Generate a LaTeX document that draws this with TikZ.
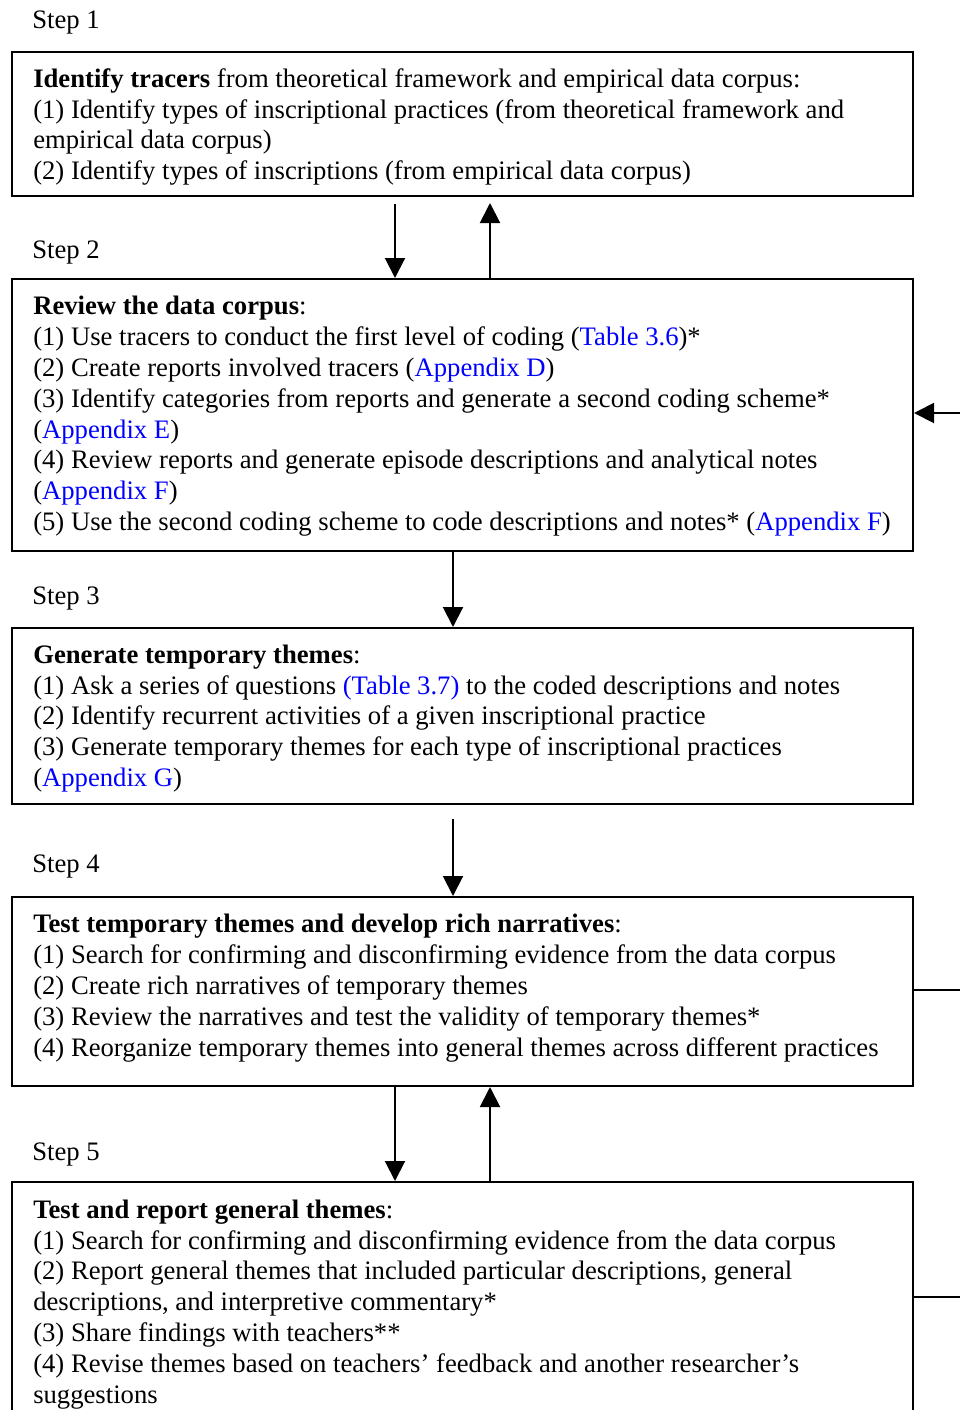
\documentclass[tikz,border=0pt]{standalone}
\usepackage{fontspec}
\setmainfont{Liberation Serif}
\usetikzlibrary{arrows.meta,fit}
\definecolor{refblue}{RGB}{0,0,255}
\newcommand{\lk}[1]{\textcolor{refblue}{#1}}
\begin{document}
\begin{tikzpicture}[x=0.75pt,y=-0.75pt,
  box/.style={draw,line width=1.5pt,inner sep=0pt,rectangle},
  txt/.style={anchor=north west,inner sep=0pt,align=left,
    font={\fontsize{20}{23.1}\selectfont}},
  steplabel/.style={anchor=base west,inner sep=0pt,
    font={\fontsize{20}{23.1}\selectfont}},
  arr/.style={line width=1.5pt,-{Triangle[length=15pt,width=15pt]}},
  link/.style={line width=1.5pt}]
\useasboundingbox (0,0) rectangle (960,1410);
\clip (0,0) rectangle (960,1410);

% step labels
\node[steplabel] (s1) at (32,28)   {Step 1};
\node[steplabel] (s2) at (32,258)  {Step 2};
\node[steplabel] (s3) at (32,604)  {Step 3};
\node[steplabel] (s4) at (32,872)  {Step 4};
\node[steplabel] (s5) at (32,1160) {Step 5};

% frames
\node[box,fit={(12,52) (913,196)}]    (b1) {};
\node[box,fit={(12,279) (913,551)}]   (b2) {};
\node[box,fit={(12,628) (913,804)}]   (b3) {};
\node[box,fit={(12,897) (913,1086)}]  (b4) {};
\node[box,fit={(12,1182) (913,1450)}] (b5) {};

% contents
\node[txt] (t1) at (33,65.5) {\strut\textbf{Identify tracers} from theoretical framework and empirical data corpus:\\
(1) Identify types of inscriptional practices (from theoretical framework and\\
empirical data corpus)\\
(2) Identify types of inscriptions (from empirical data corpus)};

\node[txt] (t2) at (33,293) {\strut\textbf{Review the data corpus}:\\
(1) Use tracers to conduct the first level of coding (\lk{Table 3.6})*\\
(2) Create reports involved tracers (\lk{Appendix D})\\
(3) Identify categories from reports and generate a second coding scheme*\\
(\lk{Appendix E})\\
(4) Review reports and generate episode descriptions and analytical notes\\
(\lk{Appendix F})\\
(5) Use the second coding scheme to code descriptions and notes* (\lk{Appendix F})};

\node[txt] (t3) at (33,641.5) {\strut\textbf{Generate temporary themes}:\\
(1) Ask a series of questions \lk{(Table 3.7)} to the coded descriptions and notes\\
(2) Identify recurrent activities of a given inscriptional practice\\
(3) Generate temporary themes for each type of inscriptional practices\\
(\lk{Appendix G})};

\node[txt] (t4) at (33,911) {\strut\textbf{Test temporary themes and develop rich narratives}:\\
(1) Search for confirming and disconfirming evidence from the data corpus\\
(2) Create rich narratives of temporary themes\\
(3) Review the narratives and test the validity of temporary themes*\\
(4) Reorganize temporary themes into general themes across different practices};

\node[txt] (t5) at (33,1196.5) {\strut\textbf{Test and report general themes}:\\
(1) Search for confirming and disconfirming evidence from the data corpus\\
(2) Report general themes that included particular descriptions, general\\
descriptions, and interpretive commentary*\\
(3) Share findings with teachers**\\
(4) Revise themes based on teachers’ feedback and another researcher’s\\
suggestions};

% vertical connectors between steps
\draw[arr] ([shift={(384,7)}]b1.south west) -- ([shift={(384,0)}]b2.north west);
\draw[arr] ([shift={(479,0)}]b2.north west) -- ([shift={(479,6)}]b1.south west);
\draw[arr] ([shift={(442,0)}]b2.south west) -- ([shift={(442,0)}]b3.north west);
\draw[arr] ([shift={(442,14)}]b3.south west) -- ([shift={(442,0)}]b4.north west);
\draw[arr] ([shift={(384,0)}]b4.south west) -- ([shift={(384,0)}]b5.north west);
\draw[arr] ([shift={(479,0)}]b5.north west) -- ([shift={(479,0)}]b4.south west);

% feedback loop on the right
\coordinate (r2) at (965,413);
\coordinate (r4) at (965,990);
\coordinate (r5) at (965,1297);
\draw[arr] (r2) -- (b2.east |- r2);
\draw[link] (b4.east |- r4) -- (r4);
\draw[link] (b5.east |- r5) -- (r5);
\end{tikzpicture}
\end{document}
